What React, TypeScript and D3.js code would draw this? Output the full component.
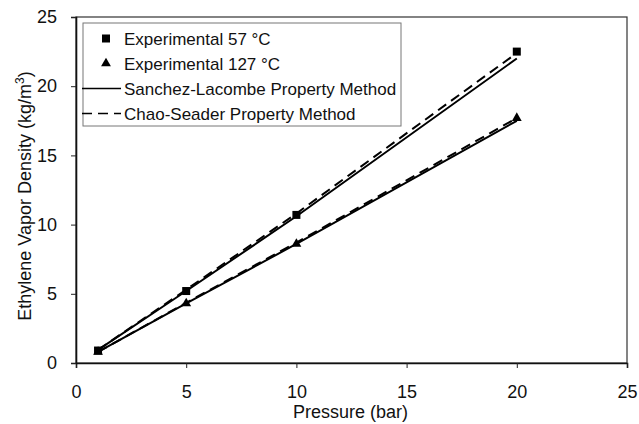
import React, { useEffect, useRef } from 'react';
import * as d3 from 'd3';

// pressure points (bar)
const pressure = [1, 5, 10, 20];
// experimental data (kg/m3)
const exp57 = [0.9, 5.2, 10.7, 22.5];
const exp127 = [0.8, 4.3, 8.6, 17.7];
// model curves
const sanchez57 = [0.95, 5.2, 10.6, 22.0];
const chao57 = [0.95, 5.3, 10.8, 22.4];
const sanchez127 = [0.8, 4.3, 8.6, 17.5];
const chao127 = [0.8, 4.35, 8.7, 17.7];

const xTicks = [0, 5, 10, 15, 20, 25];
const yTicks = [0, 5, 10, 15, 20, 25];

const legendItems = [
  { label: 'Experimental 57 °C', kind: 'square' },
  { label: 'Experimental 127 °C', kind: 'triangle' },
  { label: 'Sanchez-Lacombe Property Method', kind: 'solid' },
  { label: 'Chao-Seader Property Method', kind: 'dashed' },
];

const App = () => {
  const ref = useRef<SVGSVGElement>(null);

  useEffect(() => {
    const svg = d3.select(ref.current);
    svg.selectAll('*').remove();

    const margin = { left: 76, right: 12, top: 17, bottom: 61 };
    const width = 639, height = 424;
    const font = 'Liberation Sans, Arial, sans-serif';

    const x = d3.scaleLinear().domain([0, 25]).range([margin.left, width - margin.right]);
    const y = d3.scaleLinear().domain([0, 25]).range([height - margin.bottom, margin.top]);

    const g = svg.append('g');

    // plot frame
    g.append('rect')
      .attr('x', x(0)).attr('y', y(25))
      .attr('width', x(25) - x(0)).attr('height', y(0) - y(25))
      .attr('fill', 'none').attr('stroke', '#333').attr('stroke-width', 1.2);

    // x axis
    g.append('g')
      .attr('transform', `translate(0,${y(0)})`)
      .call(d3.axisBottom(x).tickValues(xTicks).tickSize(5).tickPadding(17))
      .call(a => {
        a.select('.domain').attr('stroke', '#111').attr('stroke-width', 1.6);
        a.selectAll('line').attr('stroke', '#222');
        a.selectAll('text').attr('fill', '#111').style('font-size', '18px').style('font-family', font);
      });

    // y axis
    g.append('g')
      .attr('transform', `translate(${x(0)},0)`)
      .call(d3.axisLeft(y).tickValues(yTicks).tickSize(5).tickPadding(14))
      .call(a => {
        a.select('.domain').attr('stroke', '#111').attr('stroke-width', 1.6);
        a.selectAll('line').attr('stroke', '#222');
        a.selectAll('text').attr('fill', '#111').style('font-size', '18px').style('font-family', font);
      });

    // axis titles
    g.append('text')
      .attr('x', x(12.5) - 1).attr('y', 418)
      .attr('text-anchor', 'middle')
      .style('font-size', '18px').style('font-family', font).attr('fill', '#111')
      .text('Pressure (bar)');

    const yt = g.append('text')
      .attr('transform', `translate(31,${y(12.5) + 6}) rotate(-90)`)
      .attr('text-anchor', 'middle')
      .style('font-size', '18px').style('font-family', font).attr('fill', '#111');
    yt.append('tspan').text('Ethylene Vapor Density (kg/m');
    yt.append('tspan').attr('dy', -7).style('font-size', '12px').text('3');
    yt.append('tspan').attr('dy', 7).text(')');

    const line = d3.line<number>()
      .x((d, i) => x(pressure[i]))
      .y(d => y(d));

    const curves = [
      { data: sanchez57, dash: null },
      { data: chao57, dash: '10,6' },
      { data: sanchez127, dash: null },
      { data: chao127, dash: '10,6' },
    ];
    g.selectAll('.curve')
      .data(curves)
      .enter().append('path')
      .attr('class', 'curve')
      .attr('d', d => line(d.data))
      .attr('fill', 'none')
      .attr('stroke', '#000')
      .attr('stroke-width', 2)
      .attr('stroke-dasharray', d => d.dash);

    const sq = 8;
    g.selectAll('.sq')
      .data(exp57)
      .enter().append('rect')
      .attr('x', (d, i) => x(pressure[i]) - sq / 2)
      .attr('y', d => y(d) - sq / 2)
      .attr('width', sq).attr('height', sq)
      .attr('fill', '#000');

    const tri = d3.symbol().type(d3.symbolTriangle).size(42);
    g.selectAll('.tri')
      .data(exp127)
      .enter().append('path')
      .attr('transform', (d, i) => `translate(${x(pressure[i])},${y(d)})`)
      .attr('d', tri())
      .attr('fill', '#000');

    // legend
    const lg = g.append('g');
    lg.append('rect')
      .attr('x', 83).attr('y', 23).attr('width', 318).attr('height', 103)
      .attr('fill', '#fff').attr('stroke', '#777').attr('stroke-width', 1);

    legendItems.forEach((item, i) => {
      const cy = 38.5 + i * 25;
      if (item.kind === 'square') {
        lg.append('rect').attr('x', 102).attr('y', cy - 4).attr('width', 8).attr('height', 8).attr('fill', '#000');
      } else if (item.kind === 'triangle') {
        lg.append('path').attr('transform', `translate(106,${cy})`).attr('d', tri()).attr('fill', '#000');
      } else {
        lg.append('line')
          .attr('x1', 82).attr('x2', 121).attr('y1', cy).attr('y2', cy)
          .attr('stroke', '#000').attr('stroke-width', 1.6)
          .attr('stroke-dasharray', item.kind === 'dashed' ? '10,6' : null);
      }
      lg.append('text')
        .attr('x', 124).attr('y', cy + 6)
        .style('font-size', '17px').style('font-family', font).attr('fill', '#111')
        .text(item.label);
    });
  }, []);

  return (
    <svg ref={ref} width={639} height={424}
      style={{ position: 'absolute', left: 0, top: 0, background: '#fff' }} />
  );
};

export default App;
